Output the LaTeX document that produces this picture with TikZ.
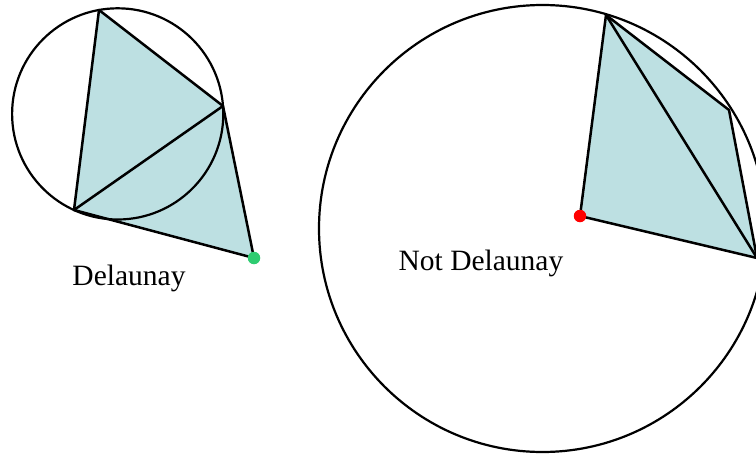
\documentclass[tikz,border=0pt]{standalone}
\usepackage{fontspec}
\setmainfont{Liberation Serif}
\definecolor{tri}{RGB}{189,224,226}
\definecolor{gdot}{RGB}{46,204,113}
\begin{document}
\begin{tikzpicture}[x=1pt,y=-1pt,
  edge/.style={line width=2.5pt,line join=round,line cap=round},
  ring/.style={line width=2.2pt},
  dotpt/.style={circle,inner sep=0pt,minimum size=12.5pt},
  lbl/.style={font=\fontsize{29.5}{32}\selectfont,anchor=base,inner sep=0pt}]
\useasboundingbox (0,0) rectangle (756,455);
% left (Delaunay)
\coordinate (A) at (99,10);
\coordinate (B) at (223,106);
\coordinate (C) at (74,210);
\coordinate (D) at (254,258);
\fill[tri] (A) -- (B) -- (D) -- (C) -- cycle;
\draw[ring] (117.7,113.9) circle[radius=105.6];
\draw[edge] (A) -- (B) -- (C) -- cycle;
\draw[edge] (B) -- (D) -- (C);
\node[dotpt,fill=gdot] (dg) at (D) {};
\node[lbl] (l1) at (129,285) {Delaunay};
% right (Not Delaunay)
\coordinate (P) at (606,15);
\coordinate (Q) at (729,110);
\coordinate (R) at (757,258);
\coordinate (S) at (580,216);
\fill[tri] (P) -- (Q) -- (R) -- (S) -- cycle;
\draw[ring] (542.5,228.5) circle[radius=223.5];
\draw[edge] (P) -- (Q) -- (R) -- (S) -- cycle;
\draw[edge] (P) -- (R);
\node[dotpt,fill=red] (dr) at (S) {};
\node[lbl] (l2) at (481,270) {Not Delaunay};
\end{tikzpicture}
\end{document}
